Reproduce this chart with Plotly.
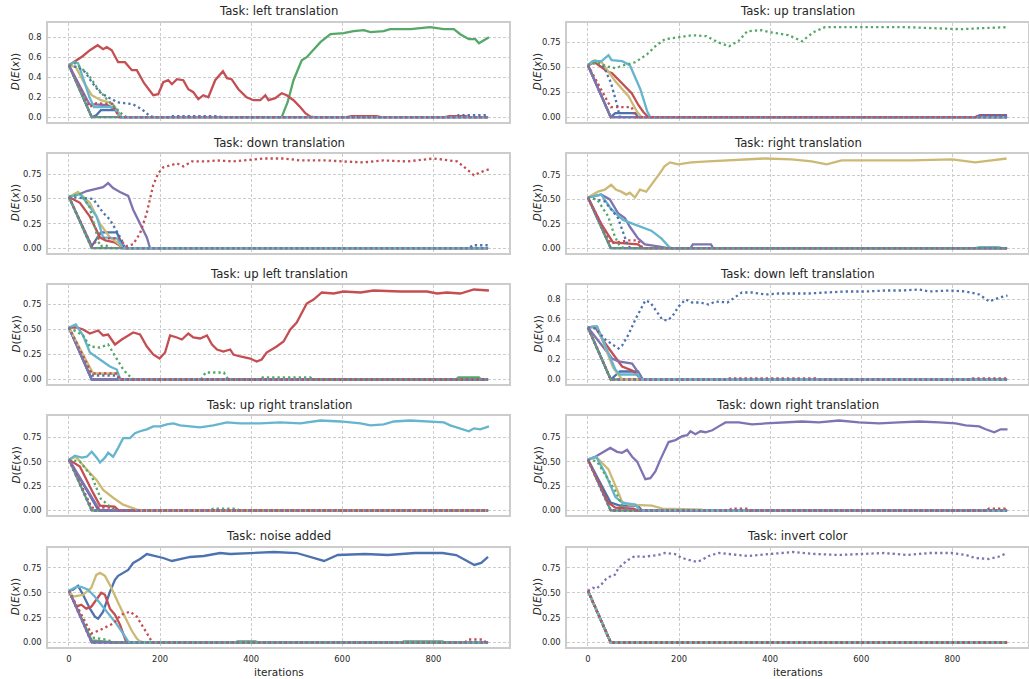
import plotly.graph_objects as go

# ---------------- data (iteration, D(E(x))) ----------------
TASKS = ["left translation", "up translation", "down translation", "right translation",
         "up left translation", "down left translation", "up right translation",
         "down right translation", "noise added", "invert color"]

SERIES_NAMES = ["D1", "D2", "D3", "D4", "D5", "D6", "D7", "D8", "D9", "D10"]

left_translation = [
    [(0, .52), (50, 0), (60, .02), (70, .07), (105, .07), (115, 0), (920, 0)],
    [(0, .52), (50, 0), (467, 0), (480, .15), (493, .37), (511, .57), (522, .60), (537, .68), (552, .75),
     (574, .83), (603, .84), (625, .86), (647, .87), (662, .85), (691, .86), (705, .88), (750, .88),
     (793, .90), (823, .88), (845, .88), (859, .83), (878, .78), (892, .78), (900, .74), (911, .77), (922, .80)],
    [(0, .52), (10, .55), (30, .61), (46, .67), (63, .72), (75, .68), (83, .70), (94, .67), (108, .55),
     (123, .55), (138, .47), (149, .47), (165, .34), (185, .22), (196, .23), (207, .35), (218, .37),
     (226, .33), (237, .38), (251, .37), (262, .28), (273, .25), (284, .18), (295, .22), (306, .20),
     (321, .37), (338, .46), (347, .39), (357, .38), (372, .28), (390, .20), (405, .17), (420, .17),
     (431, .22), (438, .17), (453, .19), (467, .24), (478, .22), (493, .17), (508, .10), (519, .04),
     (530, .005), (540, 0), (610, 0), (620, .01), (675, .01), (685, 0), (825, 0), (835, .01), (870, .01),
     (880, 0), (920, 0)],
    [(0, .52), (45, .13), (85, .12), (100, .08), (112, 0), (920, 0)],
    [(0, .52), (15, .50), (35, .33), (50, .22), (70, .17), (95, .14), (115, 0), (920, 0)],
    [(0, .52), (12, .55), (20, .54), (31, .40), (45, .20), (55, .10), (100, .10), (112, 0), (920, 0)],
    [(0, .52), (20, .50), (36, .45), (50, .35), (68, .25), (85, .20), (95, .18), (105, .15), (140, .13),
     (160, .08), (178, .01), (190, 0), (220, 0), (225, .01), (330, .01), (335, 0), (850, 0), (855, .02),
     (920, .02)],
    [(0, .52), (15, .54), (42, .43), (61, .30), (83, .18), (105, .08), (119, .02), (127, 0), (920, 0)],
    [(0, .52), (45, .10), (60, .14), (95, .13), (110, 0), (920, 0)],
    [(0, .52), (50, 0), (920, 0)],
]

up_translation = [
    [(0, .52), (50, 0), (60, .04), (104, .04), (110, 0), (850, 0), (860, .02), (920, .02)],
    [(0, .52), (50, 0), (920, 0)],
    [(0, .52), (15, .55), (30, .50), (42, .46), (53, .44), (74, .34), (96, .24), (111, .12), (122, .05),
     (133, 0), (920, 0)],
    [(0, .52), (50, 0), (920, 0)],
    [(0, .52), (15, .57), (30, .55), (60, .36), (89, .21), (107, .06), (118, 0), (920, 0)],
    [(0, .52), (10, .56), (30, .56), (45, .62), (52, .57), (75, .56), (92, .52), (104, .40), (115, .28),
     (130, .06), (137, 0), (920, 0)],
    [(0, .52), (20, .55), (35, .50), (50, .35), (63, .14), (70, 0), (920, 0)],
    [(0, .52), (20, .55), (40, .51), (60, .49), (79, .52), (104, .55), (130, .63), (148, .71), (169, .78),
     (200, .80), (230, .82), (260, .81), (285, .75), (310, .71), (330, .76), (350, .86), (380, .87),
     (400, .85), (440, .82), (470, .76), (495, .85), (520, .90), (560, .90), (620, .90), (700, .90),
     (760, .89), (820, .88), (860, .89), (900, .90), (920, .90)],
    [(0, .52), (50, .10), (96, .10), (105, 0), (850, 0), (860, .02), (920, .02)],
    [(0, .52), (50, 0), (920, 0)],
]

down_translation = [
    [(0, .52), (50, .02), (70, .16), (105, .16), (120, 0), (920, 0)],
    [(0, .52), (50, 0), (920, 0)],
    [(0, .52), (24, .46), (46, .32), (68, .11), (80, .08), (100, .06), (120, 0), (920, 0)],
    [(0, .52), (24, .55), (39, .58), (61, .60), (75, .62), (86, .66), (97, .61), (112, .57), (123, .55),
     (130, .53), (141, .39), (156, .25), (171, .11), (178, 0), (920, 0)],
    [(0, .52), (20, .57), (46, .46), (68, .25), (90, .11), (105, .06), (120, 0), (920, 0)],
    [(0, .52), (25, .55), (61, .32), (75, .11), (105, .10), (120, 0), (920, 0)],
    [(0, .52), (39, .51), (53, .50), (75, .36), (90, .29), (105, .17), (116, .08), (123, 0), (880, 0),
     (885, .03), (920, .03)],
    [(0, .52), (25, .55), (45, .42), (68, .02), (80, .03), (95, 0), (920, 0)],
    [(0, .52), (50, .02), (65, .10), (110, .10), (125, .02), (141, .04), (156, .15), (171, .36), (185, .64),
     (196, .76), (207, .82), (222, .84), (237, .86), (251, .83), (270, .88), (303, .88), (325, .89),
     (361, .88), (390, .89), (427, .91), (471, .91), (508, .89), (544, .89), (566, .89), (603, .88),
     (647, .87), (691, .89), (742, .88), (801, .91), (830, .89), (852, .88), (874, .80), (889, .74),
     (903, .77), (922, .80)],
    [(0, .52), (50, 0), (920, 0)],
]

right_translation = [
    [(0, .52), (50, 0), (920, 0)],
    [(0, .52), (50, 0), (920, 0)],
    [(0, .52), (29, .25), (55, .06), (110, .04), (120, 0), (920, 0)],
    [(0, .52), (29, .55), (48, .50), (66, .36), (81, .31), (92, .22), (110, .10), (125, .04), (154, .02),
     (176, 0), (225, 0), (230, .04), (270, .04), (275, 0), (920, 0)],
    [(0, .52), (22, .58), (37, .60), (51, .65), (62, .60), (73, .58), (84, .55), (92, .57), (103, .52),
     (114, .60), (128, .58), (143, .67), (158, .77), (168, .84), (180, .88), (198, .86), (227, .88),
     (264, .89), (300, .90), (344, .91), (388, .92), (447, .91), (491, .89), (524, .86), (557, .90),
     (608, .90), (667, .90), (711, .90), (799, .91), (850, .88), (886, .90), (919, .92)],
    [(0, .52), (29, .55), (51, .40), (77, .29), (99, .25), (117, .22), (139, .18), (161, .10), (179, .01),
     (185, 0), (850, 0), (860, .01), (900, .01), (910, 0), (920, 0)],
    [(0, .52), (37, .48), (66, .31), (81, .12), (88, .02), (95, 0), (920, 0)],
    [(0, .52), (20, .50), (44, .33), (59, .12), (70, .02), (80, 0), (920, 0)],
    [(0, .52), (50, .05), (88, .08), (110, .08), (120, 0), (920, 0)],
    [(0, .52), (50, 0), (920, 0)],
]

up_left_translation = [
    [(0, .52), (50, 0), (920, 0)],
    [(0, .52), (50, 0), (850, 0), (855, .02), (900, .02), (905, 0), (920, 0)],
    [(0, .52), (17, .52), (31, .50), (46, .46), (64, .49), (75, .44), (86, .45), (101, .35), (116, .40),
     (130, .44), (141, .47), (156, .45), (171, .33), (185, .25), (199, .21), (211, .27), (222, .44),
     (237, .42), (248, .40), (262, .46), (273, .42), (288, .41), (303, .44), (314, .35), (325, .30),
     (339, .28), (354, .30), (361, .25), (376, .23), (398, .21), (412, .18), (423, .20), (434, .27),
     (456, .33), (471, .38), (486, .50), (500, .57), (522, .76), (537, .80), (555, .87), (581, .86),
     (603, .88), (640, .87), (669, .89), (727, .88), (786, .88), (808, .86), (830, .87), (859, .86),
     (889, .90), (922, .89)],
    [(0, .52), (50, 0), (920, 0)],
    [(0, .52), (53, .06), (105, .06), (112, 0), (920, 0)],
    [(0, .52), (15, .55), (31, .44), (46, .27), (68, .20), (90, .13), (105, .10), (112, .01), (120, 0),
     (920, 0)],
    [(0, .52), (50, .04), (105, .04), (112, 0), (920, 0)],
    [(0, .52), (31, .44), (46, .33), (68, .32), (86, .35), (101, .23), (119, .10), (138, .01), (145, 0),
     (290, 0), (300, .07), (340, .07), (350, 0), (420, 0), (425, .02), (530, .02), (535, 0), (920, 0)],
    [(0, .52), (50, .06), (105, .06), (112, 0), (920, 0)],
    [(0, .52), (50, 0), (920, 0)],
]

down_left_translation = [
    [(0, .52), (50, 0), (70, .08), (110, .08), (120, 0), (920, 0)],
    [(0, .52), (50, 0), (920, 0)],
    [(0, .52), (15, .53), (38, .36), (60, .23), (75, .13), (97, .09), (111, .03), (115, 0), (920, 0)],
    [(0, .52), (53, .21), (67, .18), (97, .16), (115, .04), (120, 0), (920, 0)],
    [(0, .52), (20, .53), (55, .12), (75, 0), (920, 0)],
    [(0, .52), (20, .53), (60, .10), (70, .05), (110, .05), (115, 0), (920, 0)],
    [(0, .52), (16, .51), (38, .40), (53, .35), (67, .31), (75, .34), (89, .45), (104, .60), (119, .73),
     (126, .79), (137, .77), (148, .70), (163, .60), (174, .59), (185, .63), (199, .73), (214, .80),
     (229, .77), (247, .77), (265, .75), (280, .78), (306, .77), (324, .83), (338, .87), (360, .87),
     (390, .85), (419, .86), (456, .86), (485, .86), (522, .87), (566, .88), (609, .88), (653, .89),
     (690, .89), (727, .90), (749, .88), (793, .89), (830, .88), (859, .85), (881, .78), (903, .82),
     (921, .84)],
    [(0, .52), (50, 0), (920, 0)],
    [(0, .52), (50, 0), (300, 0), (305, .01), (500, .01), (505, 0), (840, 0), (845, .01), (920, .01)],
    [(0, .52), (50, 0), (920, 0)],
]

up_right_translation = [
    [(0, .52), (55, .08), (65, 0), (920, 0)],
    [(0, .52), (50, 0), (920, 0)],
    [(0, .52), (24, .45), (53, .18), (68, .05), (100, .04), (110, 0), (920, 0)],
    [(0, .52), (55, .10), (68, 0), (920, 0)],
    [(0, .52), (15, .55), (39, .42), (61, .31), (75, .21), (97, .13), (119, .06), (149, .01), (160, 0),
     (920, 0)],
    [(0, .52), (13, .56), (28, .54), (39, .55), (50, .60), (61, .54), (68, .49), (79, .54), (86, .59),
     (97, .55), (108, .64), (119, .74), (134, .74), (145, .79), (156, .81), (171, .83), (185, .86),
     (200, .86), (215, .88), (229, .89), (244, .87), (266, .86), (288, .85), (317, .87), (347, .90),
     (376, .89), (420, .89), (464, .90), (508, .89), (552, .92), (596, .91), (640, .89), (662, .87),
     (691, .88), (713, .91), (749, .92), (793, .91), (823, .90), (837, .87), (859, .84), (878, .81),
     (889, .84), (903, .83), (922, .86)],
    [(0, .52), (50, 0), (920, 0)],
    [(0, .52), (24, .50), (50, .35), (70, .12), (90, .04), (100, 0), (310, 0), (317, .02), (368, .02),
     (375, 0), (920, 0)],
    [(0, .52), (50, .03), (100, .03), (108, 0), (920, 0)],
    [(0, .52), (50, 0), (920, 0)],
]

down_right_translation = [
    [(0, .52), (50, .08), (70, .05), (110, .05), (118, 0), (920, 0)],
    [(0, .52), (50, 0), (920, 0)],
    [(0, .52), (45, .08), (60, .03), (100, .02), (110, 0), (920, 0)],
    [(0, .52), (16, .55), (31, .59), (49, .64), (64, .60), (75, .59), (86, .62), (97, .55), (108, .50),
     (119, .38), (126, .32), (137, .33), (148, .40), (159, .52), (170, .64), (177, .70), (192, .72),
     (207, .76), (218, .77), (225, .81), (236, .78), (247, .81), (258, .80), (273, .82), (287, .86),
     (302, .90), (331, .90), (360, .88), (390, .89), (434, .90), (470, .91), (507, .90), (551, .92),
     (595, .90), (639, .89), (683, .90), (727, .91), (771, .90), (807, .89), (829, .87), (859, .86),
     (873, .83), (892, .80), (906, .83), (921, .83)],
    [(0, .52), (20, .54), (45, .42), (60, .25), (75, .09), (89, .06), (141, .05), (163, .02), (250, .01),
     (255, 0), (920, 0)],
    [(0, .52), (18, .55), (38, .38), (60, .14), (75, .08), (104, .06), (115, 0), (920, 0)],
    [(0, .52), (50, 0), (920, 0)],
    [(0, .52), (20, .50), (60, .20), (75, .05), (85, 0), (920, 0)],
    [(0, .52), (50, 0), (310, 0), (315, .02), (350, .02), (355, 0), (875, 0), (880, .02), (915, .02),
     (920, 0)],
    [(0, .52), (50, 0), (920, 0)],
]

noise_added = [
    [(0, .52), (9, .53), (20, .57), (31, .48), (46, .34), (57, .26), (64, .24), (75, .31), (90, .51),
     (101, .63), (108, .67), (119, .70), (130, .73), (141, .80), (156, .84), (171, .89), (189, .87),
     (207, .85), (226, .82), (244, .84), (266, .86), (296, .87), (332, .90), (354, .89), (400, .90),
     (450, .91), (500, .90), (530, .86), (560, .82), (590, .88), (650, .89), (700, .88), (760, .90),
     (820, .90), (850, .88), (870, .83), (890, .78), (905, .80), (920, .86)],
    [(0, .52), (50, .02), (100, 0), (365, 0), (370, .01), (410, .01), (415, 0), (730, 0), (735, .01),
     (820, .01), (825, 0), (920, 0)],
    [(0, .52), (16, .36), (27, .38), (38, .34), (49, .36), (60, .43), (71, .50), (79, .48), (90, .34),
     (101, .28), (112, .18), (123, .04), (126, 0), (920, 0)],
    [(0, .52), (50, 0), (920, 0)],
    [(0, .52), (9, .46), (31, .48), (49, .55), (60, .68), (68, .70), (79, .67), (93, .55), (108, .40),
     (123, .26), (137, .125), (149, .04), (156, .01), (165, 0), (920, 0)],
    [(0, .52), (16, .56), (27, .56), (42, .53), (57, .46), (71, .38), (86, .29), (104, .19), (119, .09),
     (130, .01), (135, 0), (920, 0)],
    [(0, .52), (50, 0), (920, 0)],
    [(0, .52), (50, .05), (80, .03), (100, 0), (920, 0)],
    [(0, .52), (49, .09), (68, .125), (97, .19), (115, .28), (134, .31), (149, .26), (163, .16),
     (178, .04), (182, 0), (870, 0), (875, .03), (910, .03), (915, 0), (920, 0)],
    [(0, .52), (50, 0), (920, 0)],
]

invert_color = [
    [(0, .52), (50, 0), (920, 0)],
    [(0, .52), (50, 0), (920, 0)],
    [(0, .52), (50, 0), (920, 0)],
    [(0, .52), (50, 0), (920, 0)],
    [(0, .52), (50, 0), (920, 0)],
    [(0, .52), (50, 0), (920, 0)],
    [(0, .52), (50, 0), (920, 0)],
    [(0, .52), (50, 0), (920, 0)],
    [(0, .52), (50, 0), (920, 0)],
    [(0, .52), (11, .55), (18, .54), (29, .58), (40, .64), (51, .67), (59, .68), (66, .74), (77, .79),
     (88, .83), (103, .87), (118, .86), (136, .87), (154, .88), (169, .90), (191, .89), (206, .85),
     (221, .83), (239, .81), (250, .83), (265, .87), (287, .90), (309, .89), (331, .88), (353, .87),
     (375, .88), (397, .89), (450, .91), (500, .89), (550, .88), (600, .89), (650, .90), (700, .88),
     (750, .90), (800, .90), (830, .88), (850, .85), (880, .84), (900, .86), (920, .90)],
]

PANELS = [left_translation, up_translation, down_translation, right_translation,
          up_left_translation, down_left_translation, up_right_translation,
          down_right_translation, noise_added, invert_color]

Y_DTICK = [0.2, 0.25, 0.25, 0.25, 0.25, 0.2, 0.25, 0.25, 0.25, 0.25]
X_TICKS = [0, 200, 400, 600, 800]

# ---------------- styles ----------------
COLORS = ["#4C72B0", "#55A868", "#C44E52", "#8172B2", "#CCB974", "#64B5CD",
          "#4C72B0", "#55A868", "#C44E52", "#8172B2"]
DASHES = ["solid"] * 6 + ["2.3px,3px"] * 4

W, H = 1029, 679
X_DOM = [(48, 509), (567, 1028)]
ROW_TOP = [22.7, 154, 285, 416, 547.5]
ROW_BOT = [121.7, 252.7, 384, 515, 647]
TXT = "#262626"
FONT = "DejaVu Sans"

fig = go.Figure()
annotations = []
layout = {}

for k, series in enumerate(PANELS):
    r, c = divmod(k, 2)
    ax = "" if k == 0 else str(k + 1)
    for i, pts in enumerate(series):
        fig.add_trace(go.Scatter(
            x=[p[0] for p in pts], y=[p[1] for p in pts], mode="lines",
            name=SERIES_NAMES[i], showlegend=False,
            line=dict(color=COLORS[i], width=2.3, dash=DASHES[i]),
            xaxis="x" + ax, yaxis="y" + ax))
    ymax = max(p[1] for s in series for p in s)
    ymin = min(p[1] for s in series for p in s)
    span = ymax - ymin
    x0, x1 = X_DOM[c]
    common = dict(showline=True, mirror=True, linecolor="#cccccc", linewidth=1.5,
                  showgrid=True, gridcolor="#cccccc", gridwidth=1, griddash="3px,2px",
                  zeroline=False, ticks="outside", ticklen=3, tickcolor="rgba(0,0,0,0)",
                  automargin=False,
                  tickfont=dict(family=FONT, size=8.4, color=TXT))
    layout["xaxis" + ax] = dict(common, domain=[x0 / W, x1 / W], anchor="y" + ax,
                                range=[-46, 966], tickvals=X_TICKS,
                                showticklabels=(r == 4))
    layout["yaxis" + ax] = dict(common, domain=[1 - ROW_BOT[r] / H, 1 - ROW_TOP[r] / H],
                                anchor="x" + ax,
                                range=[ymin - 0.05 * span, ymax + 0.05 * span],
                                dtick=Y_DTICK[k], tick0=0,
                                tickformat=".1f" if Y_DTICK[k] == 0.2 else ".2f")
    annotations.append(dict(text="Task: " + TASKS[k], xref="paper", yref="paper",
                            x=(x0 + x1) / 2 / W, y=1 - (ROW_TOP[r] - 11.5) / H,
                            xanchor="center", yanchor="middle", showarrow=False,
                            font=dict(family=FONT, size=11.7, color=TXT)))
    annotations.append(dict(text="<i>D</i>(<i>E</i>(<i>x</i>))", xref="paper", yref="paper",
                            x=(15 if c == 0 else 537) / W,
                            y=1 - (ROW_TOP[r] + ROW_BOT[r]) / 2 / H,
                            xanchor="center", yanchor="middle", textangle=-90, showarrow=False,
                            font=dict(family=FONT, size=10.5, color=TXT)))

for c in range(2):
    x0, x1 = X_DOM[c]
    annotations.append(dict(text="iterations", xref="paper", yref="paper",
                            x=(x0 + x1) / 2 / W, y=1 - 672 / H, xanchor="center",
                            yanchor="middle", showarrow=False,
                            font=dict(family=FONT, size=10.5, color=TXT)))

fig.update_layout(width=W, height=H, margin=dict(l=0, r=0, t=0, b=0),
                  paper_bgcolor="white", plot_bgcolor="white",
                  annotations=annotations, showlegend=False, **layout)
fig.write_html("out.html", config={"displayModeBar": False},
               post_script="document.body.style.margin='0px';document.body.style.overflow='hidden';")
